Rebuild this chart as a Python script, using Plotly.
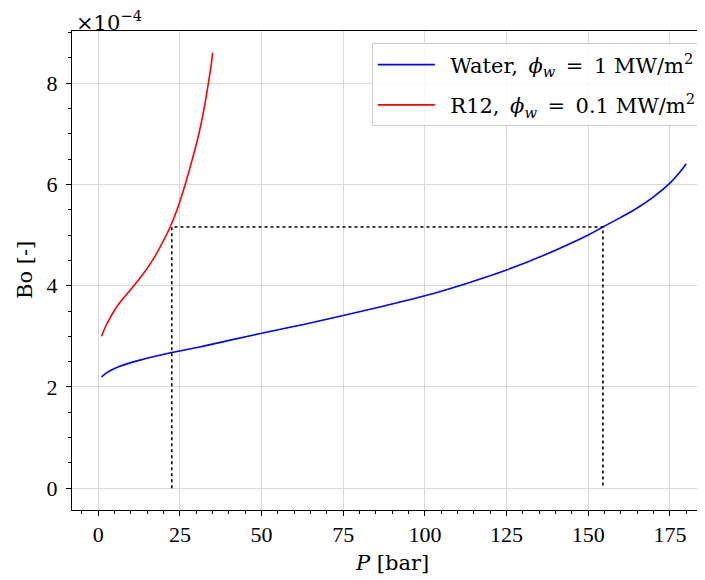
import plotly.graph_objects as go

# Water, phi_w = 1 MW/m2
water_P = [1, 2, 3.6, 6.6, 12.8, 22.5, 31, 40, 50, 62.5, 75, 87.5, 100, 112.5, 125, 137.5, 150, 154.5,
           160, 165, 170, 175, 177.5, 180]
water_Bo = [2.20, 2.255, 2.32, 2.41, 2.53, 2.68, 2.79, 2.92, 3.06, 3.23, 3.41, 3.60, 3.80, 4.04, 4.31, 4.63, 5.00, 5.16,
            5.35, 5.535, 5.755, 6.025, 6.20, 6.41]

# R12, phi_w = 0.1 MW/m2
r12_P = [1, 2, 3, 5, 7.5, 10, 13, 16, 19, 22, 24.5, 26.6, 28.8, 30.8, 32.4, 33.7, 34.5, 35]
r12_Bo = [3.00, 3.16, 3.29, 3.52, 3.74, 3.93, 4.17, 4.44, 4.77, 5.16, 5.57, 6.00, 6.50, 7.00, 7.50, 8.00, 8.33, 8.60]

# equal-Bo guide
guide_P = [22.5, 22.5, 154.5, 154.5]
guide_Bo = [0, 5.16, 5.16, 0]

x_ticks = [0, 25, 50, 75, 100, 125, 150, 175]
y_ticks = [0, 2, 4, 6, 8]

FONT = "Liberation Serif"
FONT2 = "DejaVu Serif"
W, H = 697, 572
ML, MT, MR, MB = 64, 23, 0, 70

fig = go.Figure()
fig.add_trace(go.Scatter(x=water_P, y=water_Bo, mode="lines",
                         line=dict(color="#0000ff", width=1.6, shape="spline", smoothing=1.0),
                         name="\u2002Water,\u2002<i>ϕ</i><sub><i>w</i></sub>\u2002=\u20021 MW/m<sup>2</sup>", legendgroup="a"))
fig.add_trace(go.Scatter(x=r12_P, y=r12_Bo, mode="lines",
                         line=dict(color="#ff0000", width=1.6, shape="spline", smoothing=1.0),
                         name="\u2002R12,\u2002<i>ϕ</i><sub><i>w</i></sub>\u2002=\u20020.1 MW/m<sup>2</sup>", legendgroup="b"))
fig.add_trace(go.Scatter(x=guide_P, y=guide_Bo, mode="lines", line=dict(color="black", width=1.6, dash="dot"),
                         showlegend=False, hoverinfo="skip"))

fig.update_layout(
    width=W, height=H,
    margin=dict(l=ML, r=MR, t=MT, b=MB),
    paper_bgcolor="white", plot_bgcolor="white",
    font=dict(family=FONT, size=22, color="black"),
    showlegend=True,
    legend=dict(x=0.995, xanchor="right", y=0.974, yanchor="top",
                bgcolor="rgba(255,255,255,0.85)", bordercolor="#cccccc", borderwidth=1,
                font=dict(family=FONT2, size=21), itemwidth=57, tracegroupgap=10),
)
fig.update_xaxes(range=[-8.05, 185.75], tickvals=x_ticks, ticks="outside", ticklen=5, tickwidth=1, tickcolor="black",
                 showline=True, linecolor="black", linewidth=1, mirror=True,
                 showgrid=True, gridcolor="#d8d8d8", gridwidth=1, zeroline=False,
                 minor=dict(dtick=5, tick0=0, ticks="outside", ticklen=3, tickcolor="black", showgrid=False))
fig.update_yaxes(range=[-0.43, 9.03], tickvals=y_ticks, ticks="outside", ticklen=5, tickwidth=1, tickcolor="black",
                 showline=True, linecolor="black", linewidth=1, mirror=False,
                 showgrid=True, gridcolor="#d8d8d8", gridwidth=1, zeroline=False,
                 ticklabelstandoff=4,
                 minor=dict(dtick=0.5, tick0=0, ticks="outside", ticklen=3, tickcolor="black", showgrid=False))

# annotation positions in pixel coordinates of the figure
fig.add_annotation(x=384, y=555, text="<i>P</i> [bar]", showarrow=False,
                   font=dict(family=FONT2, size=21), xanchor="center", yanchor="middle")
fig.add_annotation(x=66, y=13, text="×10<sup>−4</sup>", showarrow=False,
                   font=dict(family=FONT2, size=21), xanchor="left", yanchor="middle")
fig.add_annotation(x=17, y=262, text="Bo [-]", showarrow=False, textangle=-90,
                   font=dict(family=FONT2, size=21), xanchor="center", yanchor="middle")

pw, ph = W - ML - MR, H - MT - MB
for ann in fig.layout.annotations:
    ann.xref = "paper"
    ann.yref = "paper"
    ann.x = (ann.x - ML) / pw
    ann.y = (H - MB - ann.y) / ph

fig.write_html("out.html")
